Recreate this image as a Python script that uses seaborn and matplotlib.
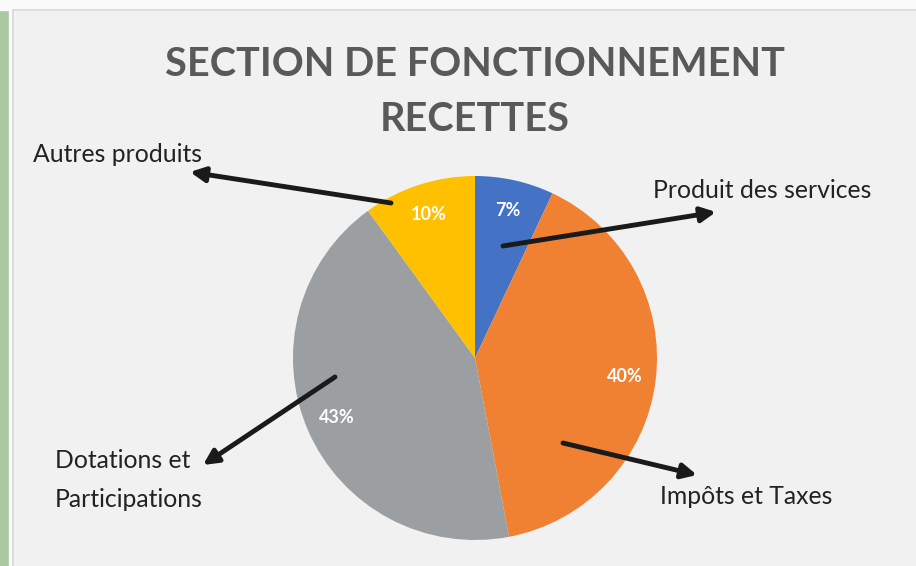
import matplotlib
matplotlib.use("Agg")
import matplotlib.pyplot as plt
import seaborn as sns
from matplotlib.patches import Rectangle

# données
categories = ['Produit des services', 'Impôts et Taxes', 'Dotations et\nParticipations', 'Autres produits']
valeurs = [7, 40, 43, 10]
couleurs = ['#4472C4', '#F08132', '#9B9FA2', '#FFC000']

sns.set_theme(style='white')
plt.rcParams['font.family'] = ['Lato', 'DejaVu Sans']

W, H = 916, 566
cx, cy, R = 475, 358, 182  # centre et rayon du camembert (pixels)

fig = plt.figure(figsize=(W / 100, H / 100), dpi=100, facecolor='#F1F1F1')
ax = fig.add_axes([0, 0, 1, 1])
ax.set_facecolor('#F1F1F1')

# bande verte à gauche + bandeau du haut
fig.patches.append(Rectangle((0, 0), 9 / W, 1, transform=fig.transFigure, color='#A9C8A3', zorder=0))
fig.patches.append(Rectangle((9 / W, 0), 4 / W, 1, transform=fig.transFigure, color='#FAFAFA', zorder=0))
fig.patches.append(Rectangle((0, 1 - 10 / H), 1, 10 / H, transform=fig.transFigure, color='#FAFAFA', zorder=0))
fig.patches.append(Rectangle((13 / W, -0.01), 1, 1 - 10 / H + 0.01, transform=fig.transFigure,
                             fill=False, edgecolor='#D6D6D6', lw=1.2, zorder=1))


def px(x, y):
    # pixels -> coordonnées du camembert (rayon = 1)
    return (x - cx) / R, (cy - y) / R


wedges, textes, pcts = ax.pie(valeurs, colors=couleurs, startangle=90, counterclock=False,
                              autopct='%1.0f%%', pctdistance=0.83, radius=1,
                              wedgeprops=dict(linewidth=0),
                              textprops=dict(color='white', fontsize=13, fontweight='bold'))

ax.set_xlim(-cx / R, (W - cx) / R)
ax.set_ylim(-(H - cy) / R, cy / R)
ax.set_aspect('equal', adjustable='box')
ax.axis('off')

# titre
ax.text(*px(475, 92), 'SECTION DE FONCTIONNEMENT\nRECETTES', ha='center', va='center',
        fontsize=28.5, fontweight='bold', color='#595959', linespacing=1.6)

# étiquettes + flèches
fleche = dict(arrowstyle='-|>', lw=3.5, color='#1A1A1A', mutation_scale=22, shrinkA=0, shrinkB=0)
etiquettes = [
    (categories[0], (653, 190), (503, 246), (716, 212)),
    (categories[1], (660, 497), (563, 443), (697, 475)),
    (categories[2], (55, 480), (335, 377), (203, 465)),
    (categories[3], (33, 155), (391, 203), (190, 172)),
]
for nom, pos_txt, queue, tete in etiquettes:
    ax.text(*px(*pos_txt), nom, ha='left', va='center', fontsize=17.8, color='#222222', linespacing=1.8)
    ax.annotate('', xy=px(*tete), xytext=px(*queue), arrowprops=fleche)

fig.savefig('out.png', dpi=100, facecolor=fig.get_facecolor())
